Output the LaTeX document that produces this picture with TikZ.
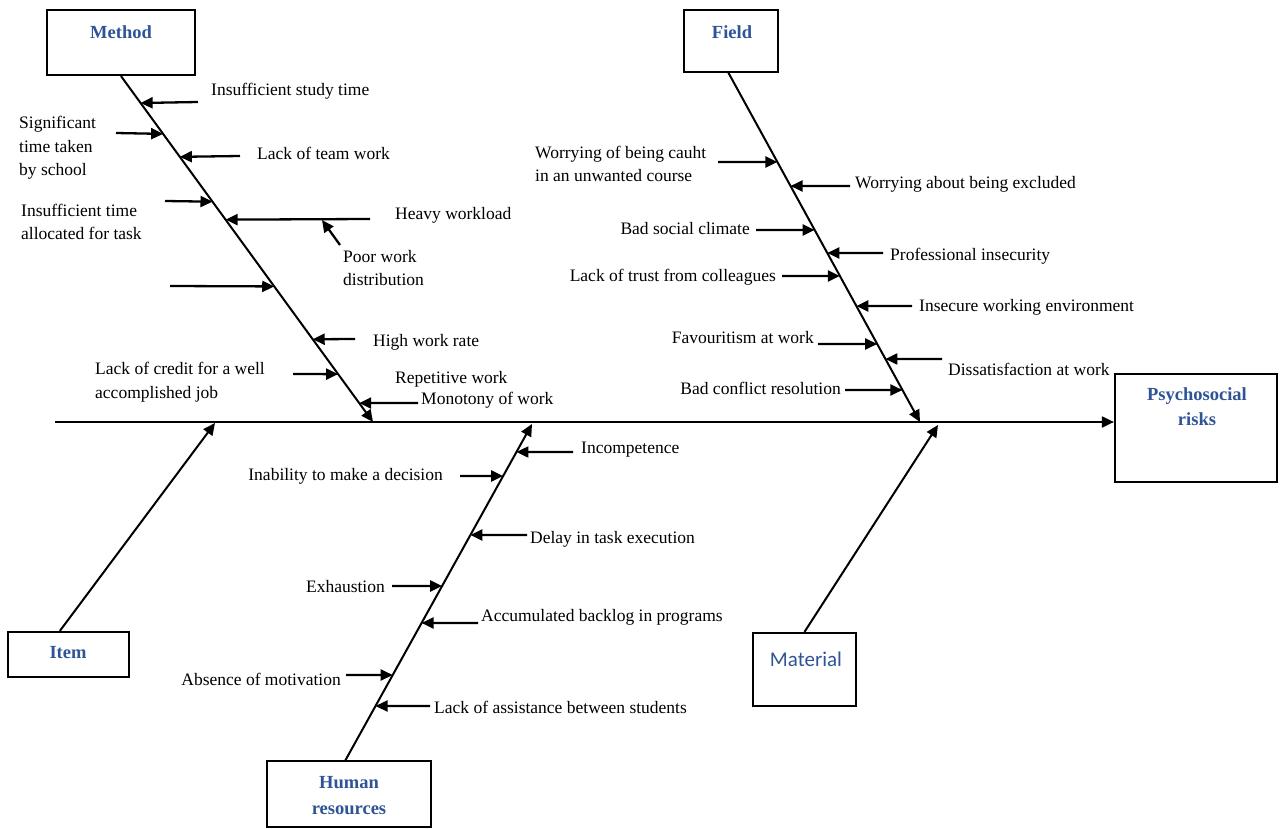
\documentclass[tikz,border=0pt]{standalone}
\usepackage{fontspec}
\setmainfont{Liberation Serif}
\newfontfamily\bodyfont{Liberation Serif}
\newfontfamily\matfont{Carlito}
\usetikzlibrary{arrows.meta,calc}
\definecolor{hdblue}{RGB}{47,84,150}
\begin{document}
\begin{tikzpicture}[x=1pt,y=-1pt,
  every node/.style={inner sep=0pt},
  txt/.style={font=\bodyfont\fontsize{17.5}{23.5}\selectfont, align=left},
  hdr/.style={font=\bodyfont\fontsize{18.5}{25}\selectfont\bfseries, text=hdblue, align=center},
  catbox/.style={draw, line width=2.2pt},
  arr/.style={-{Triangle[length=12pt,width=11pt]}, line width=2.3pt},
  bonearr/.style={-{Triangle[length=12pt,width=11pt]}, line width=2pt}]
\useasboundingbox (0,0) rectangle (1280,829);

% category boxes
\node[catbox, minimum width=148pt, minimum height=65pt] (method) at (121,42.5) {};
\node[catbox, minimum width=94pt, minimum height=62pt] (field) at (731,41) {};
\node[catbox, minimum width=162pt, minimum height=108pt] (psy) at (1196,428) {};
\node[catbox, minimum width=121pt, minimum height=45pt] (item) at (68.5,654.5) {};
\node[catbox, minimum width=164pt, minimum height=66pt] (hr) at (349,794) {};
\node[catbox, minimum width=103pt, minimum height=73pt] (mat) at (804.5,669.5) {};

% headers
\node[hdr] (methodt) at (121,32) {Method};
\node[hdr] (fieldt) at (732,32) {Field};
\node[hdr] (psyt) at (1197,407) {Psychosocial\\risks};
\node[hdr] (itemt) at (68,653) {Item};
\node[hdr, font=\bodyfont\fontsize{18.5}{26}\selectfont\bfseries] (hrt) at (349,796) {Human\\resources};
\node[font=\matfont\fontsize{21}{25}\selectfont, text=hdblue] (matt) at (806,659) {Material};

% spine
\coordinate (sps) at (55,422);
\draw[bonearr] (sps) -- (sps -| psy.west);

% main bones
\coordinate (mt) at (method.south);
\coordinate (mb) at (373,422);
\coordinate (ft) at (728,72);
\coordinate (fb) at (920,422);
\coordinate (ht) at (345,761);
\coordinate (hb) at (532,424);
\coordinate (it) at ($(item.north west)!0.43!(item.north east)$);
\coordinate (ib) at (215,423);
\coordinate (matb) at (938,425);
\draw[bonearr] (mt) -- (mb);
\draw[bonearr] (ft) -- (fb);
\draw[bonearr] (ht) -- (hb);
\draw[bonearr] (it) -- (ib);
\draw[bonearr] (mat.north) -- (matb);

% Method causes
\foreach \xs/\y [count=\i] in {198/102,116/133,240/156,165/201,370/219,170/286,355/339,293/374,418/403}{
  \pgfmathsetmacro\f{(\y-75)/347}
  \coordinate (ms\i) at (\xs,\y);
  \coordinate (me\i) at ($(mt)!\f!(mb)$);
  \draw[arr] (ms\i) -- (me\i);
}
\coordinate (pws) at (340,245);
\coordinate (pwe) at (322,220);
\draw[arr] (pws) -- (pwe);

% Field causes
\foreach \xs/\y [count=\i] in {718/162,850/186,756/230,883/253,782/276,912/306,818/344,942/359,845/390}{
  \pgfmathsetmacro\f{(\y-72)/350}
  \coordinate (fs\i) at (\xs,\y);
  \coordinate (fe\i) at ($(ft)!\f!(fb)$);
  \draw[arr] (fs\i) -- (fe\i);
}

% Human resources causes
\foreach \xs/\y [count=\i] in {573/452,460/476,527/535,392/586,478/623,346/675,430/706}{
  \pgfmathsetmacro\f{(761-\y)/337}
  \coordinate (hs\i) at (\xs,\y);
  \coordinate (he\i) at ($(ht)!\f!(hb)$);
  \draw[arr] (hs\i) -- (he\i);
}

% Method texts
\node[txt, anchor=west] (m1) at (211,91) {Insufficient study time};
\node[txt, anchor=west] (m2) at (19,148) {Significant\\time taken\\by school};
\node[txt, anchor=west] (m3) at (257,153) {Lack of team work};
\node[txt, anchor=west] (m4) at (21,222) {Insufficient time\\allocated for task};
\node[txt, anchor=west] (m5) at (395,215) {Heavy workload};
\node[txt, anchor=west] (m6) at (343,268) {Poor work\\distribution};
\node[txt, anchor=west] (m7) at (373,342) {High work rate};
\node[txt, anchor=west] (m8) at (95,382) {Lack of credit for a well\\accomplished job};
\node[txt, anchor=west] (m9) at (395,379) {Repetitive work};
\node[txt, anchor=west] (m10) at (421,400) {Monotony of work};

% Field texts
\node[txt, anchor=west] (f1) at (535,164) {Worrying of being cauht\\in an unwanted course};
\node[txt, anchor=west] (f2) at (855,184) {Worrying about being excluded};
\node[txt, anchor=east] (f3) at (750,229) {Bad social climate};
\node[txt, anchor=west] (f4) at (890,256) {Professional insecurity};
\node[txt, anchor=east] (f5) at (776,277) {Lack of trust from colleagues};
\node[txt, anchor=west] (f6) at (919,307) {Insecure working environment};
\node[txt, anchor=east] (f7) at (814,338) {Favouritism at work};
\node[txt, anchor=west] (f8) at (948,369) {Dissatisfaction at work};
\node[txt, anchor=east] (f9) at (841,388) {Bad conflict resolution};

% Human resources texts
\node[txt, anchor=west] (h1) at (581,450) {Incompetence};
\node[txt, anchor=east] (h2) at (443,476) {Inability to make a decision};
\node[txt, anchor=west] (h3) at (530,539) {Delay in task execution};
\node[txt, anchor=east] (h4) at (385,587) {Exhaustion};
\node[txt, anchor=west] (h5) at (481,617) {Accumulated backlog in programs};
\node[txt, anchor=east] (h6) at (341,679) {Absence of motivation};
\node[txt, anchor=west] (h7) at (434,707) {Lack of assistance between students};
\end{tikzpicture}
\end{document}
